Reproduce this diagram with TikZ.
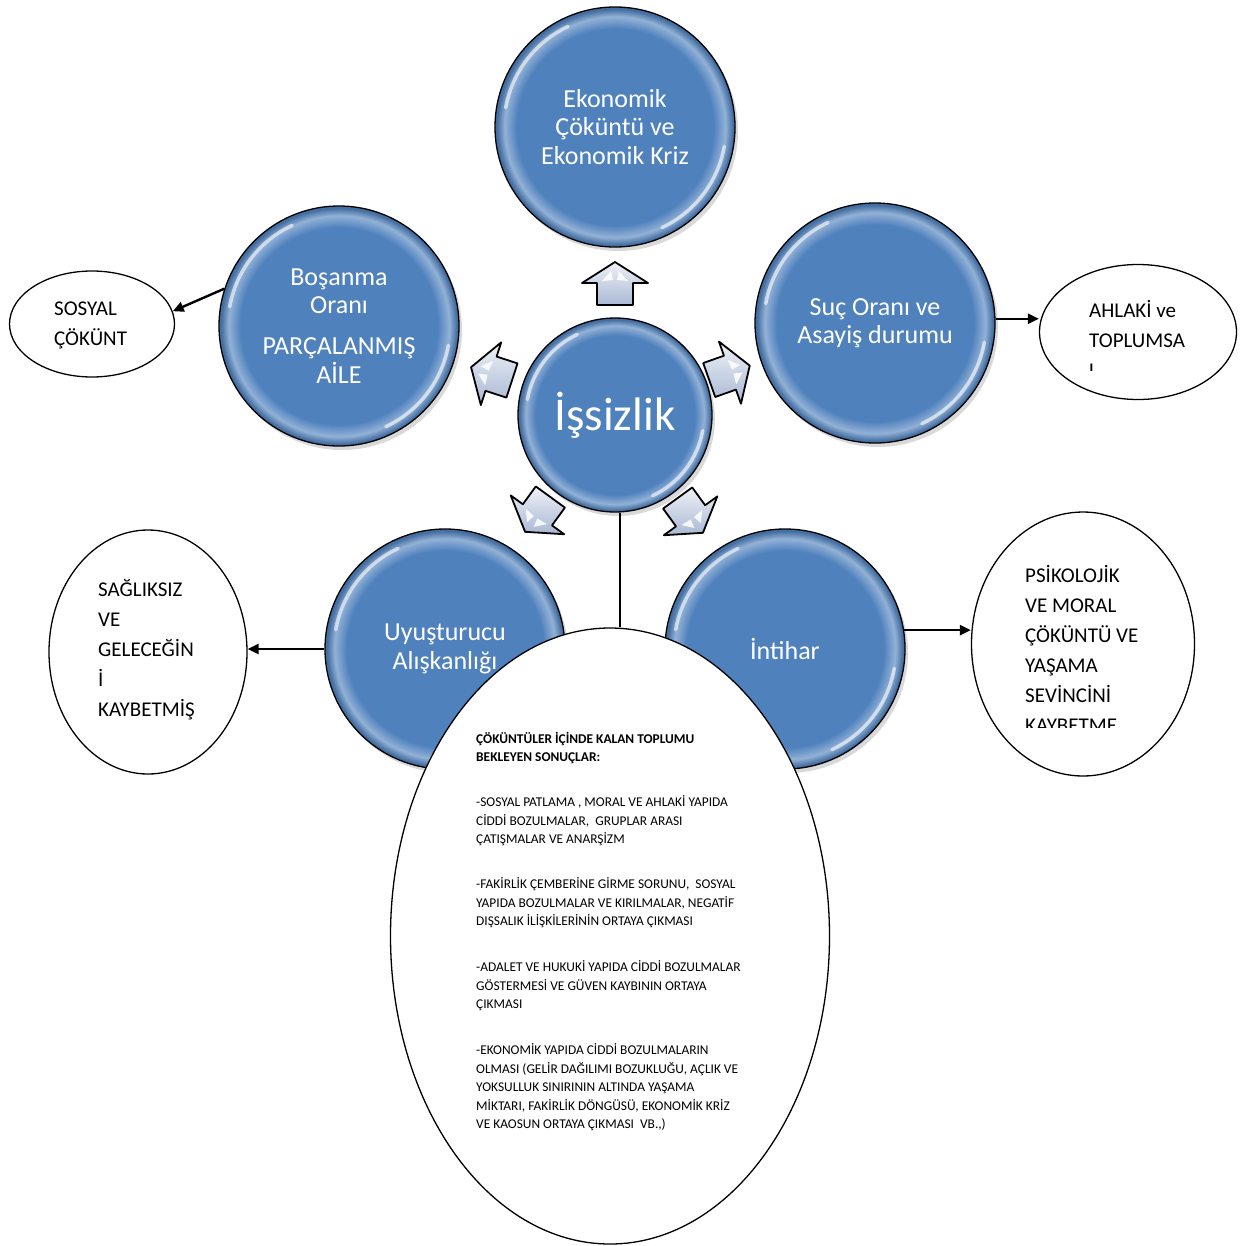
\documentclass[tikz,border=0pt]{standalone}
\usepackage{fontspec}
\setmainfont{Carlito}
\usetikzlibrary{shapes.geometric,arrows.meta,shadows}
\definecolor{bblue}{HTML}{4F81BD}
\definecolor{arrA}{HTML}{EEF1F7}
\definecolor{arrB}{HTML}{A9B8D4}
\pgfdeclareradialshading{bubshade}{\pgfpoint{0bp}{0bp}}{color(0bp)=(bblue); color(20.5bp)=(bblue); color(23bp)=(bblue!62!white); color(24.6bp)=(bblue!85!black); color(50bp)=(bblue!85!black)}
\tikzset{
  bubble/.style={circle, draw=black, line width=1.3pt, shading=bubshade, text=white,
    minimum size=240pt, inner sep=0pt, align=center, font=\fontsize{26}{28.5}\selectfont,
    drop shadow={opacity=0.3, shadow xshift=3pt, shadow yshift=-4pt}},
  oval/.style={ellipse, draw=black, line width=1.3pt, fill=white, inner sep=0pt},
  ovaltext/.style={anchor=west, align=left, inner sep=0pt, font=\fontsize{21}{30}\selectfont},
  conn/.style={line width=2.4pt, -{Triangle[length=11pt, width=10pt]}},
  barrow/.pic={
    \path[draw=black, line width=1.8pt, line join=round, top color=arrA, bottom color=arrB]
      (-21pt,-18pt) -- (1pt,-18pt) -- (1pt,-33pt) -- (22pt,0pt) -- (1pt,33pt) -- (1pt,18pt) -- (-21pt,18pt) -- cycle;
    \fill[white, opacity=0.85] (3pt,-13pt) -- (13pt,-4pt) -- (4pt,-2pt) -- cycle;
    \fill[white, opacity=0.85] (3pt,13pt) -- (13pt,4pt) -- (4pt,2pt) -- cycle;
  }
}
\begin{document}
\begin{tikzpicture}[x=1pt,y=-1pt]
\useasboundingbox (0,0) rectangle (1247,1245);
% main circles
\node[bubble] (eko) at (615,127) {Ekonomik\\Çöküntü ve\\Ekonomik Kriz};
\node[bubble] (bos) at (339,326) {Boşanma\\Oranı\\[12.5pt]PARÇALANMIŞ\\AİLE};
\node[bubble] (suc) at (875,323) {Suç Oranı ve\\Asayiş durumu};
\node[bubble, minimum size=194pt, font=\fontsize{47}{50}\selectfont] (isz) at (615,415) {İşsizlik};
\node[bubble] (uyu) at (445,649) {Uyuşturucu\\Alışkanlığı};
\node[bubble] (int) at (785,649) {İntihar};
% highlights
\foreach \n in {eko,bos,suc,uyu,int}{
  \draw[white, opacity=0.6, line width=3.5pt, line cap=round] ([shift={(115:111pt)}]\n.center) arc[start angle=115, end angle=170, radius=111pt];
  \draw[white, opacity=0.6, line width=3.5pt, line cap=round] ([shift={(-65:111pt)}]\n.center) arc[start angle=-65, end angle=-10, radius=111pt];
}
\draw[white, opacity=0.6, line width=3.5pt, line cap=round] ([shift={(115:89pt)}]isz.center) arc[start angle=115, end angle=170, radius=89pt];
\draw[white, opacity=0.6, line width=3.5pt, line cap=round] ([shift={(-65:89pt)}]isz.center) arc[start angle=-65, end angle=-10, radius=89pt];
% block arrows
\pic[rotate=90] at (615,284) {barrow};
\pic[rotate=162] at (492,374) {barrow};
\pic[rotate=19.5] at (729,373) {barrow};
\pic[rotate=-126] at (538,514) {barrow};
\pic[rotate=-54] at (690,515) {barrow};
% outer ellipses
\node[oval, minimum width=165pt, minimum height=106pt] (sos) at (92,324) {};
\node[oval, minimum width=197pt, minimum height=135pt] (ahl) at (1138,332) {};
\node[oval, minimum width=198pt, minimum height=244pt] (sag) at (148,652) {};
\node[oval, minimum width=223pt, minimum height=264pt] (psi) at (1083,644) {};
\node[oval, minimum width=439pt, minimum height=616pt] (big) at (610,936) {};
% texts in ellipses
\node[ovaltext] (sost) at (54,325.5) {SOSYAL\\ÇÖKÜNT};
\begin{scope}
  \clip (1080,280) rectangle (1200,370);
  \node[ovaltext] (ahlt) at (1089,339) {AHLAKİ ve\\TOPLUMSA\\L};
\end{scope}
\node[ovaltext] (sagt) at (98,649.5) {SAĞLIKSIZ\\VE\\GELECEĞİN\\İ\\KAYBETMİŞ};
\begin{scope}
  \clip (1015,550) rectangle (1160,727);
  \node[ovaltext] (psit) at (1025,648.5) {PSİKOLOJİK\\VE MORAL\\ÇÖKÜNTÜ VE\\YAŞAMA\\SEVİNCİNİ\\KAYBETME};
\end{scope}
\node[anchor=west, align=left, inner sep=0pt, font=\fontsize{13.4}{18.5}\selectfont] (bigt) at (476,931.5)
  {\textbf{ÇÖKÜNTÜLER İÇİNDE KALAN TOPLUMU}\\
   \textbf{BEKLEYEN SONUÇLAR:}\\[26.5pt]
   -SOSYAL PATLAMA , MORAL VE AHLAKİ YAPIDA\\
   CİDDİ BOZULMALAR,\ \ GRUPLAR ARASI\\
   ÇATIŞMALAR VE ANARŞİZM\\[26.5pt]
   -FAKİRLİK ÇEMBERİNE GİRME SORUNU,\ \ SOSYAL\\
   YAPIDA BOZULMALAR VE KIRILMALAR, NEGATİF\\
   DIŞSALIK İLİŞKİLERİNİN ORTAYA ÇIKMASI\\[27.5pt]
   -ADALET VE HUKUKİ YAPIDA CİDDİ BOZULMALAR\\
   GÖSTERMESİ VE GÜVEN KAYBININ ORTAYA\\
   ÇIKMASI\\[27.5pt]
   -EKONOMİK YAPIDA CİDDİ BOZULMALARIN\\
   OLMASI (GELİR DAĞILIMI BOZUKLUĞU, AÇLIK VE\\
   YOKSULLUK SINIRININ ALTINDA YAŞAMA\\
   MİKTARI, FAKİRLİK DÖNGÜSÜ, EKONOMİK KRİZ\\
   VE KAOSUN ORTAYA ÇIKMASI\ \ VB.,)};
% connectors
\draw[conn] (bos.162.8) -- (sos.9.5);
\draw[conn] (suc.2) -- (ahl.west |- suc.2);
\draw[conn] (uyu.west) -- (sag.east |- uyu.west);
\draw[conn] (int.9.6) -- (psi.west |- int.9.6);
\draw[line width=2pt] ([xshift=5pt]isz.south) -- ([xshift=5pt]isz.south |- big.north);
\end{tikzpicture}
\end{document}
